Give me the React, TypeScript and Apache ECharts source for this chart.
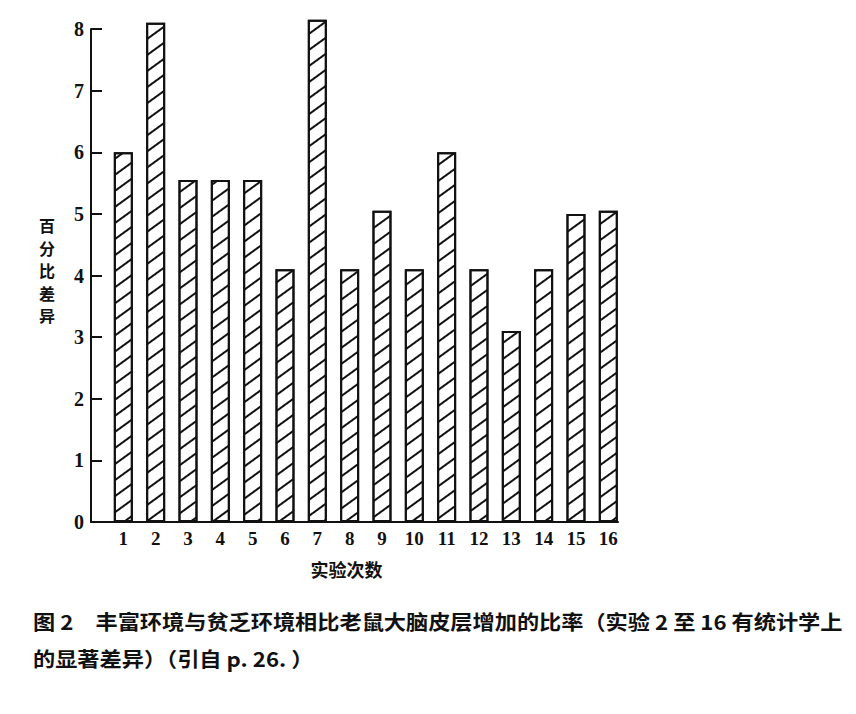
import React, { useEffect, useRef } from "react";
import * as echarts from "echarts";

const categories = ["1", "2", "3", "4", "5", "6", "7", "8", "9", "10", "11", "12", "13", "14", "15", "16"];
const values = [6.0, 8.1, 5.55, 5.55, 5.55, 4.1, 8.15, 4.1, 5.05, 4.1, 6.0, 4.1, 3.1, 4.1, 5.0, 5.05];
const yTicks = [0, 1, 2, 3, 4, 5, 6, 7, 8];
const xTitle = "实验次数";
const yTitle = "百分比差异";
const captionLine1 = "图 2　丰富环境与贫乏环境相比老鼠大脑皮层增加的比率（实验 2 至 16 有统计学上";
const captionLine2 = "的显著差异）（引自 p. 26. ）";

export default function App() {
  const ref = useRef<HTMLDivElement>(null);
  useEffect(() => {
    if (!ref.current) return;
    const chart = echarts.init(ref.current, null, { renderer: "svg" });
    const serif = "'Liberation Serif', 'DejaVu Serif', serif";
    const cjk = "'Noto Sans CJK SC', sans-serif";
    chart.setOption({
      animation: false,
      backgroundColor: "#ffffff",
      grid: { left: 91, right: 856 - 618, top: 29, bottom: 714 - 522, containLabel: false },
      xAxis: {
        type: "value",
        min: 0,
        max: 16.3,
        name: xTitle,
        nameLocation: "middle",
        nameGap: 38,
        nameTextStyle: { fontFamily: cjk, fontSize: 18, fontWeight: "bold", color: "#111", padding: [0, 16, 0, 0] },
        axisLine: { show: true, onZero: false, lineStyle: { color: "#111", width: 2 } },
        axisTick: { show: false },
        splitLine: { show: false },
        axisLabel: {
          customValues: categories.map((c) => Number(c)),
          formatter: (v: number) => String(v),
          fontFamily: serif,
          fontSize: 19,
          fontWeight: "bold",
          color: "#111",
          margin: 7,
        },
      },
      yAxis: {
        type: "value",
        min: 0,
        max: 8,
        interval: 1,
        axisLine: { show: true, lineStyle: { color: "#111", width: 2 } },
        axisTick: { show: true, inside: true, length: 11, lineStyle: { color: "#111", width: 2 } },
        splitLine: { show: false },
        axisLabel: {
          customValues: yTicks,
          fontFamily: serif,
          fontSize: 20,
          fontWeight: "bold",
          color: "#111",
          margin: 7,
        },
      },
      series: [
        {
          type: "bar",
          clip: false,
          barWidth: 19,
          data: categories.map((c, i) => [Number(c), values[i]]),
          itemStyle: {
            color: "#ffffff",
            borderColor: "#111",
            borderWidth: 2,
            decal: {
              symbol: "rect",
              symbolSize: 1,
              dashArrayX: [1, 0],
              dashArrayY: [2, 11],
              rotation: -Math.PI / 5,
              color: "#111",
              backgroundColor: "#ffffff",
            },
          },
        },
      ],
      graphic: [
        {
          type: "text",
          x: 47,
          y: 214,
          style: {
            text: yTitle.split("").join("\n"),
            fontFamily: cjk,
            fontSize: 16,
            lineHeight: 22.5,
            fontWeight: "bold",
            fill: "#111",
            align: "center",
            verticalAlign: "top",
          },
        },
        {
          type: "text",
          x: 33,
          y: 611,
          scaleX: 1.11,
          style: { text: captionLine1, fontFamily: cjk, fontSize: 20, fontWeight: "bold", fill: "#111" },
        },
        {
          type: "text",
          x: 33,
          y: 648,
          scaleX: 1.11,
          style: { text: captionLine2, fontFamily: cjk, fontSize: 20, fontWeight: "bold", fill: "#111" },
        },
      ],
    });
    return () => chart.dispose();
  }, []);
  return <div ref={ref} style={{ position: "absolute", left: 0, top: 0, width: 856, height: 714 }} />;
}
